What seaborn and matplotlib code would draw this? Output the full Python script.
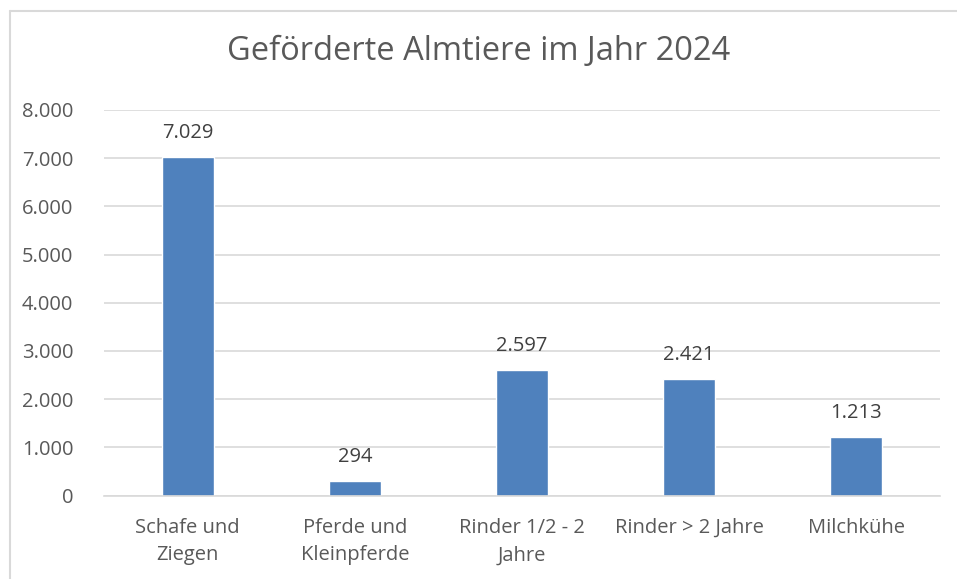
import matplotlib
matplotlib.use("Agg")
import pandas as pd
import seaborn as sns
import matplotlib.pyplot as plt
from matplotlib.lines import Line2D
from matplotlib.ticker import FuncFormatter

# Data
categories = ["Schafe und\nZiegen", "Pferde und\nKleinpferde", "Rinder 1/2 - 2\nJahre",
              "Rinder > 2 Jahre", "Milchkühe"]
values = [7029, 294, 2597, 2421, 1213]
yticks = [0, 1000, 2000, 3000, 4000, 5000, 6000, 7000, 8000]

df = pd.DataFrame({"Tierart": categories, "Anzahl": values})

sns.set_theme(style="white")
plt.rcParams["font.family"] = ["Open Sans", "DejaVu Sans"]

txt = "#595959"
grid = "#D9D9D9"

def de_fmt(v, pos=None):
    return f"{int(v):,}".replace(",", ".")

fig = plt.figure(figsize=(9.57, 5.79), dpi=100)
ax = fig.add_axes([104 / 957, 1 - 495.5 / 579, 836 / 957, (495.5 - 110) / 579])

sns.barplot(data=df, x="Tierart", y="Anzahl", color="#4F81BD", saturation=1,
            width=0.31, ax=ax)

ax.set_ylim(0, 8000)
ax.set_yticks(yticks)
ax.yaxis.set_major_formatter(FuncFormatter(de_fmt))
ax.yaxis.grid(True, color=grid, linewidth=1.2)
ax.set_axisbelow(True)
for s in ["top", "right", "left"]:
    ax.spines[s].set_visible(False)
ax.spines["bottom"].set_color(grid)
ax.spines["bottom"].set_linewidth(1.2)
ax.tick_params(axis="both", length=0, labelsize=14.5, colors=txt)
ax.tick_params(axis="x", pad=16)
ax.tick_params(axis="y", pad=22)
for lbl in ax.get_xticklabels():
    lbl.set_linespacing(1.5)
ax.set_xlabel("")
ax.set_ylabel("")

for cont in ax.containers:
    ax.bar_label(cont, labels=[de_fmt(v) for v in values], padding=10,
                 fontsize=14.5, color="#404040")

fig.text(0.5, 1 - 52 / 579, "Geförderte Almtiere im Jahr 2024", ha="center",
         va="center", fontsize=23.5, color=txt)

# chart frame (top and left edges)
fig.add_artist(Line2D([10 / 957, 10 / 957], [0, 1 - 11 / 579],
                      transform=fig.transFigure, color=grid, linewidth=1.5))
fig.add_artist(Line2D([10 / 957, 1], [1 - 11 / 579, 1 - 11 / 579],
                      transform=fig.transFigure, color=grid, linewidth=1.5))

fig.savefig("out.png", dpi=100, facecolor="white")
